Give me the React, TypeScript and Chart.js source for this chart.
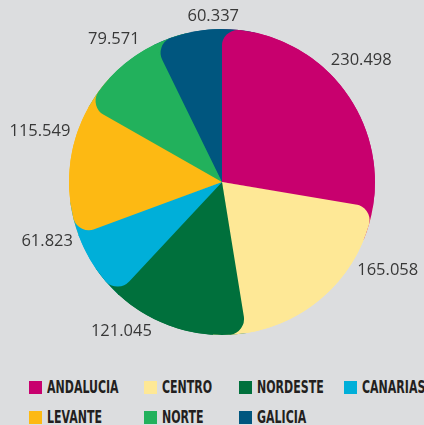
import React, { useEffect, useRef } from "react";
import { Chart, registerables } from "chart.js";

Chart.register(...registerables);

const REGIONS = ["ANDALUCIA", "CENTRO", "NORDESTE", "CANARIAS", "LEVANTE", "NORTE", "GALICIA"];
const VALUES = [230.498, 165.058, 121.045, 61.823, 115.549, 79.571, 60.337];
const COLORS = ["#c8006e", "#fee896", "#00703c", "#00afd9", "#fdb913", "#22b15c", "#00567f"];
// angular nudge (degrees) of each value label from its slice's mid-angle
const LABEL_SHIFT_DEG = [-1, -17, 17, 15, 11, 6, 10];

const BG = "#dcdddf";

const fmt = (v: number) => v.toFixed(3);

const underlayPlugin = {
  id: "underlay",
  beforeDatasetsDraw(chart: any) {
    const meta = chart.getDatasetMeta(0);
    const ctx = chart.ctx as CanvasRenderingContext2D;
    const arcs = meta.data as any[];
    const ext = 0.22;
    ctx.save();
    for (let pass = 0; pass < 2; pass++) {
      arcs.forEach((arc, i) => {
        const p = arc.getProps(["x", "y", "startAngle", "endAngle", "outerRadius"], true);
        ctx.beginPath();
        ctx.moveTo(p.x, p.y);
        if (pass === 0) ctx.arc(p.x, p.y, p.outerRadius, p.startAngle, p.endAngle);
        else ctx.arc(p.x, p.y, p.outerRadius, p.endAngle - 0.01, p.endAngle + ext);
        ctx.closePath();
        ctx.fillStyle = COLORS[i];
        ctx.fill();
      });
    }
    ctx.restore();
  },
};

const labelPlugin = {
  id: "valueLabels",
  afterDatasetsDraw(chart: any) {
    const meta = chart.getDatasetMeta(0);
    const ctx = chart.ctx as CanvasRenderingContext2D;
    const arcs = meta.data as any[];
    ctx.save();
    ctx.font = '16.5px "Open Sans", "Noto Sans", sans-serif';
    ctx.fillStyle = "#383838";
    ctx.textAlign = "center";
    ctx.textBaseline = "middle";
    arcs.forEach((arc, i) => {
      const p = arc.getProps(["x", "y", "startAngle", "endAngle", "outerRadius"], true);
      const mid = (p.startAngle + p.endAngle) / 2 + (LABEL_SHIFT_DEG[i] * Math.PI) / 180;
      const ux = Math.cos(mid);
      const uy = Math.sin(mid);
      const text = fmt(VALUES[i]);
      const w = ctx.measureText(text).width;
      const h = 13;
      const d = p.outerRadius + 5 + (w / 2) * Math.abs(ux) + (h / 2) * Math.abs(uy);
      ctx.fillText(text, p.x + d * ux, p.y + d * uy);
    });
    ctx.restore();
  },
};

export default function App() {
  const ref = useRef<HTMLCanvasElement | null>(null);

  useEffect(() => {
    if (!ref.current) return;
    const chart = new Chart(ref.current, {
      type: "pie",
      data: {
        labels: REGIONS,
        datasets: [
          {
            data: VALUES,
            backgroundColor: COLORS,
            borderWidth: 0,
            borderRadius: { outerStart: 16, outerEnd: 0, innerStart: 0, innerEnd: 0 },
            hoverOffset: 0,
            offset: 0,
          },
        ],
      },
      options: {
        responsive: false,
        animation: false,
        events: [],
        layout: { padding: { top: 29, bottom: 29, left: 60, right: 40 } },
        plugins: {
          legend: { display: false },
          tooltip: { enabled: false },
        },
      },
      plugins: [underlayPlugin, labelPlugin],
    });
    return () => chart.destroy();
  }, []);

  return (
    <div style={{ position: "fixed", inset: 0, background: BG, overflow: "hidden" }}>
      <canvas ref={ref} width={424} height={364} style={{ position: "absolute", left: 0, top: 0 }} />
      <div
        style={{
          position: "absolute",
          left: 29,
          top: 372,
          display: "grid",
          gridTemplateColumns: "115px 95px 105px 90px",
          gridAutoRows: "30px",
        }}
      >
        {REGIONS.map((r, i) => (
          <div key={r} style={{ display: "flex", alignItems: "center", whiteSpace: "nowrap" }}>
            <span
              style={{
                display: "inline-block",
                width: 13,
                height: 13,
                background: COLORS[i],
                flex: "0 0 13px",
              }}
            />
            <span
              style={{
                display: "inline-block",
                marginLeft: 5,
                font: 'bold 17px "DejaVu Sans Condensed", "DejaVu Sans", sans-serif',
                color: "#231f20",
                transform: "scaleX(0.72)",
                transformOrigin: "left center",
                lineHeight: "17px",
              }}
            >
              {r}
            </span>
          </div>
        ))}
      </div>
    </div>
  );
}
